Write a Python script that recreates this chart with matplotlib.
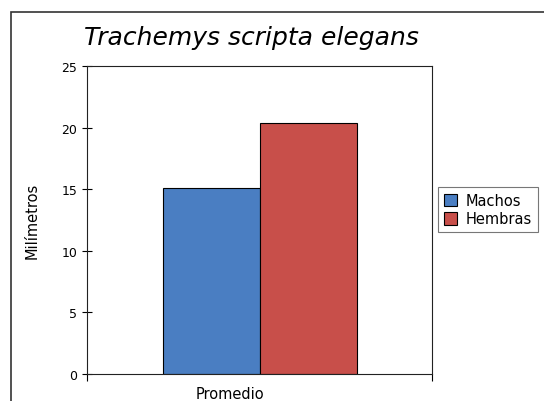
import matplotlib
matplotlib.use("Agg")
import matplotlib.pyplot as plt
from matplotlib.patches import Rectangle

categories = ["Promedio"]
series_names = ["Machos", "Hembras"]
machos = [15.1]
hembras = [20.4]
colors = ["#4a7ec2", "#c84f4a"]
yticks = [0, 5, 10, 15, 20, 25]

W, H = 544, 402
fig = plt.figure(figsize=(W / 100, H / 100), dpi=100)
fig.patch.set_facecolor("white")

# outer frame (partially visible)
fig.patches.append(Rectangle((11 / W, -0.1), 1.2, 1.1 - 13 / H,
                             transform=fig.transFigure, fill=False,
                             edgecolor="#333333", linewidth=1.2))

ax = fig.add_axes([87 / W, 1 - 375 / H, (432 - 87) / W, (375 - 67) / H])

width = 0.35
x0 = 0.0
ax.bar([x0], machos, width, align="edge", color=colors[0],
       edgecolor="black", linewidth=0.8, label=series_names[0])
ax.bar([x0 + width], hembras, width, align="edge", color=colors[1],
       edgecolor="black", linewidth=0.8, label=series_names[1])

xlim = (-0.274, 0.971)
ax.set_xlim(*xlim)
ax.set_ylim(0, 25)
ax.set_yticks(yticks)
ax.set_xticks([0.242])
ax.set_xticklabels(categories, fontsize=10.5)
ax.set_xticks(list(xlim), minor=True)
ax.tick_params(axis="y", labelsize=9, direction="inout", length=7, width=0.8)
ax.tick_params(axis="x", which="major", length=0, pad=9)
ax.tick_params(axis="x", which="minor", length=5, width=0.8, direction="out")
for s in ax.spines.values():
    s.set_linewidth(0.8)
    s.set_color("#222222")

ax.set_ylabel("Milímetros", fontsize=10.5)
ax.yaxis.set_label_coords((40 - 87) / (432 - 87), 0.5)
fig.text(251 / W, 1 - 38 / H, "Trachemys scripta elegans", fontsize=18,
         style="italic", ha="center", va="center")

leg = fig.legend(loc="upper left", bbox_to_anchor=(438 / W, 1 - 188 / H),
                 fontsize=10.5, frameon=True, fancybox=False,
                 edgecolor="#555555", handlelength=0.9, handleheight=0.9,
                 handletextpad=0.6, borderpad=0.4, labelspacing=0.25,
                 borderaxespad=0.0)
leg.get_frame().set_linewidth(0.8)

fig.savefig("out.png", dpi=100)
